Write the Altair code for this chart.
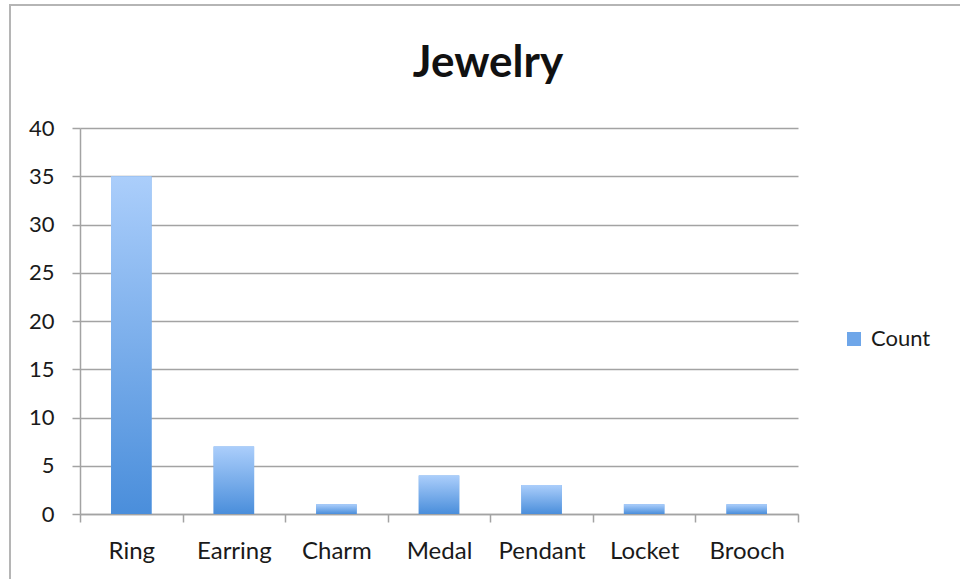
import altair as alt
import pandas as pd

categories = ["Ring", "Earring", "Charm", "Medal", "Pendant", "Locket", "Brooch"]
counts = [35, 7, 1, 4, 3, 1, 1]
series_name = "Count"
y_ticks = [0, 5, 10, 15, 20, 25, 30, 35, 40]

df = pd.DataFrame({
    "item": categories,
    "count": counts,
    "series": [series_name] * len(categories),
})

FONT = "Lato"
TXT = "#1a1a1a"
GRID = "#a3a3a3"

x_enc = alt.X(
    "item:N",
    sort=categories,
    scale=alt.Scale(paddingInner=0, paddingOuter=0),
    axis=alt.Axis(
        title=None, labelAngle=0, tickBand="extent", tickSize=8,
        labelPadding=17, labelFont=FONT, labelFontSize=24, labelColor=TXT,
        domainColor=GRID, tickColor=GRID, domainWidth=1.5, tickWidth=1.5,
        grid=False,
    ),
)
y_enc = alt.Y(
    "count:Q",
    scale=alt.Scale(domain=[0, 40], nice=False),
    axis=alt.Axis(
        title=None, values=y_ticks, tickSize=8, labelPadding=18,
        labelFont=FONT, labelFontSize=22, labelColor=TXT,
        domainColor=GRID, tickColor=GRID, gridColor=GRID,
        domainWidth=1.5, tickWidth=1.5, gridWidth=1.5, grid=True,
    ),
)

gradient = alt.LinearGradient(
    gradient="linear",
    stops=[
        alt.GradientStop(color="#abcefb", offset=0),
        alt.GradientStop(color="#4a8edb", offset=1),
    ],
    x1=0, x2=0, y1=0, y2=1,
)

BAR_W = alt.RelativeBandSize(0.395)

legend_bars = alt.Chart(df).mark_bar(width=BAR_W).encode(
    x=x_enc,
    y=y_enc,
    color=alt.Color(
        "series:N",
        scale=alt.Scale(range=["#6ea6e9"]),
        legend=alt.Legend(
            title=None, orient="none", legendX=763, legendY=200,
            symbolType="square", symbolSize=196, symbolStrokeWidth=0,
            labelFont=FONT, labelFontSize=22, labelColor=TXT,
            labelOffset=6, padding=0,
        ),
    ),
)

grad_bars = alt.Chart(df).mark_bar(fill=gradient, width=BAR_W).encode(x=x_enc, y=y_enc)

frame = alt.Chart(pd.DataFrame({"a": [0]})).mark_rect(
    fill="transparent", stroke="#b5b5b5", strokeWidth=2
).encode(
    x=alt.value(-70), x2=alt.value(900), y=alt.value(-123), y2=alt.value(470)
)

chart = alt.layer(frame, legend_bars, grad_bars).properties(
    width=718,
    height=386,
    autosize=alt.AutoSizeParams(type="none"),
    padding={"left": 80, "top": 128, "right": 162, "bottom": 65},
    title=alt.TitleParams(
        "Jewelry", font=FONT, fontSize=44, fontWeight="bold", color="#111111",
        anchor="middle", dx=49, offset=0, dy=117, baseline="alphabetic",
    ),
).configure(background="white").configure_view(stroke="transparent", strokeWidth=0)

chart.save("out.html", embed_options={"renderer": "svg", "actions": False})
